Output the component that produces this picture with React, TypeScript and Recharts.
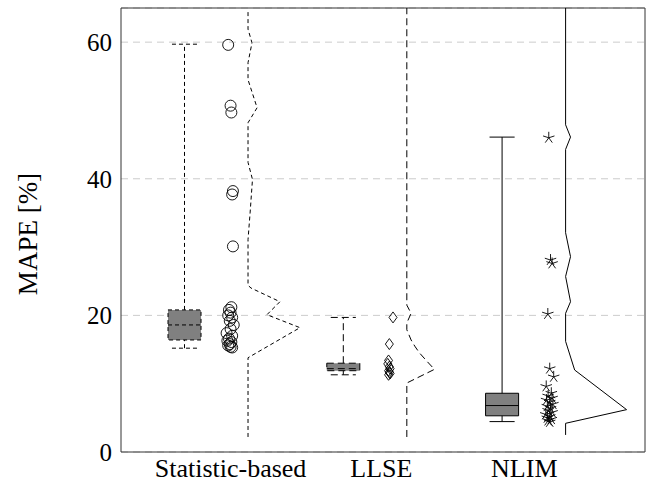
import {
  CartesianGrid,
  ComposedChart,
  ReferenceArea,
  ReferenceLine,
  Scatter,
  XAxis,
  YAxis,
} from "recharts";

// category draw positions and label positions on the numeric x axis
const categories = ["Statistic-based", "LLSE", "NLIM"];
const boxPositions = [1, 2, 3];
const labelPositions = [1.29, 2.24, 3.14];
const yTicks = [0, 20, 40, 60];

// box stats: [min, q1, median, q3, max]
const statisticBox = [15.2, 16.4, 18.6, 20.8, 59.7];
const llseBox = [11.3, 11.9, 12.2, 13.0, 19.7];
const nlimBox = [4.45, 5.3, 6.8, 8.6, 46.1];

// raw samples (value) and their horizontal jitter
const statisticValues = [
  59.6, 50.7, 49.7, 38.2, 37.7, 30.1, 21.2, 20.8, 20.4, 20.0, 19.7, 19.2, 18.6,
  18.0, 17.4, 17.0, 16.6, 16.3, 16.1, 15.8, 15.6, 15.4, 15.3,
];
const statisticJitter = [
  0.275, 0.29, 0.295, 0.305, 0.3, 0.305, 0.295, 0.28, 0.29, 0.275, 0.3, 0.285,
  0.31, 0.29, 0.265, 0.3, 0.28, 0.27, 0.295, 0.285, 0.275, 0.29, 0.3,
];
const llseValues = [19.7, 15.8, 13.4, 12.9, 12.5, 12.2, 11.9, 11.7, 11.5, 11.3];
const llseJitter = [0.313, 0.29, 0.285, 0.28, 0.29, 0.295, 0.285, 0.29, 0.295, 0.285];
const nlimValues = [
  46.0, 28.1, 27.6, 20.2, 12.2, 11.0, 9.6, 8.6, 8.2, 7.9, 7.6, 7.3, 7.0, 6.7,
  6.4, 6.1, 5.8, 5.5, 5.2, 5.0, 4.8, 4.6, 4.4,
];
const nlimJitter = [
  0.294, 0.305, 0.315, 0.288, 0.3, 0.325, 0.278, 0.31, 0.29, 0.315, 0.28, 0.3,
  0.32, 0.285, 0.305, 0.29, 0.315, 0.275, 0.3, 0.285, 0.31, 0.29, 0.3,
];

// density outlines: [value, width]
const statisticDensity = [
  [2.2, 0], [13.8, 0], [18.2, 0.327], [20.1, 0.119], [22.0, 0.201], [24.0, 0.019],
  [24.4, 0], [31.1, 0], [35.0, 0.013], [39.9, 0.028], [42.4, 0], [48.2, 0],
  [50.4, 0.057], [54.5, 0], [57.0, 0], [59.9, 0.025], [61.9, 0], [64.5, 0],
];
const llseDensity = [
  [2.2, 0], [10.1, 0], [12.1, 0.174], [13.3, 0.126], [14.5, 0.08], [15.5, 0.05],
  [16.4, 0.027], [17.9, 0], [18.9, 0], [20.3, 0.027], [21.5, 0], [65, 0],
];
const nlimDensity = [
  [2.5, 0], [4.2, 0], [6.2, 0.384], [12.0, 0.057], [16.2, 0], [20.3, 0],
  [22.0, 0.031], [25.7, 0], [28.6, 0.031], [32.1, 0], [44.3, 0], [46.1, 0.031],
  [47.9, 0], [65, 0],
];

const DENSITY_OFFSET = 0.4;
const BOX_HALF = 0.104;
const CAP_HALF = 0.079;
const FONT = "'Liberation Serif', 'Times New Roman', serif";

const points = (base: number, values: number[], jitter: number[]) =>
  values.map((y, i) => ({ x: base + jitter[i], y }));

const outline = (base: number, density: number[][]) =>
  density.map(([y, w]) => ({ x: base + DENSITY_OFFSET + w, y }));

const Circle = (p: any) => (
  <circle cx={p.cx} cy={p.cy} r={5.5} fill="none" stroke="#000" strokeWidth={0.9} />
);

const Diamond = (p: any) => (
  <path
    d={`M${p.cx},${p.cy - 5.5}L${p.cx + 4},${p.cy}L${p.cx},${p.cy + 5.5}L${p.cx - 4},${p.cy}Z`}
    fill="none"
    stroke="#000"
    strokeWidth={0.9}
  />
);

const Star = (p: any) => {
  const r = 6;
  const d = [0, 1, 2, 3, 4]
    .map((k) => {
      const a = (-90 + k * 72) * (Math.PI / 180);
      return `M${p.cx},${p.cy}L${p.cx + r * Math.cos(a)},${p.cy + r * Math.sin(a)}`;
    })
    .join("");
  return <path d={d} stroke="#000" strokeWidth={0.9} fill="none" />;
};

const Nothing = () => <g />;

function BoxPlot({ pos, stats, dash }: { pos: number; stats: number[]; dash?: string }) {
  const [min, q1, med, q3, max] = stats;
  const line = { stroke: "#000", strokeWidth: 1, strokeDasharray: dash };
  return (
    <>
      <ReferenceLine segment={[{ x: pos, y: q3 }, { x: pos, y: max }]} {...line} />
      <ReferenceLine segment={[{ x: pos, y: min }, { x: pos, y: q1 }]} {...line} />
      <ReferenceLine segment={[{ x: pos - CAP_HALF, y: max }, { x: pos + CAP_HALF, y: max }]} {...line} />
      <ReferenceLine segment={[{ x: pos - CAP_HALF, y: min }, { x: pos + CAP_HALF, y: min }]} {...line} />
      <ReferenceArea
        x1={pos - BOX_HALF}
        x2={pos + BOX_HALF}
        y1={q1}
        y2={q3}
        fill="#808080"
        fillOpacity={1}
        {...line}
      />
      <ReferenceLine segment={[{ x: pos - BOX_HALF, y: med }, { x: pos + BOX_HALF, y: med }]} {...line} />
    </>
  );
}

const YLabel = ({ viewBox }: any) => {
  const cx = viewBox.x + 28;
  const cy = viewBox.y + viewBox.height / 2 + 4;
  return (
    <text
      x={cx}
      y={cy}
      transform={`rotate(-90 ${cx} ${cy})`}
      textAnchor="middle"
      dominantBaseline="central"
      fontFamily={FONT}
      fontSize={27}
      fill="#000"
    >
      MAPE [%]
    </text>
  );
};

export default function App() {
  const dashStat = "4 3";
  const dashLlse = "7 4";
  return (
    <div style={{ position: "absolute", left: 0, top: 0, background: "#fff" }}>
      <ComposedChart width={654} height={491} margin={{ top: 8, right: 9, left: 0, bottom: 0 }}>
        <CartesianGrid vertical={false} stroke="#cccccc" strokeDasharray="7 5" />
        <XAxis
          type="number"
          dataKey="x"
          domain={[0.6, 3.9]}
          ticks={labelPositions}
          interval={0}
          allowDataOverflow
          height={39}
          tickLine={false}
          tickMargin={1}
          axisLine={{ stroke: "#333" }}
          tick={{ fontFamily: FONT, fontSize: 26, fill: "#000" }}
          tickFormatter={(v: number) => categories[labelPositions.indexOf(v)] ?? ""}
        />
        <YAxis
          type="number"
          dataKey="y"
          domain={[0, 65]}
          ticks={yTicks}
          allowDataOverflow
          width={121}
          tickLine={false}
          tickMargin={3}
          axisLine={{ stroke: "#333" }}
          tick={{ fontFamily: FONT, fontSize: 25, fill: "#000" }}
          label={<YLabel />}
        />
        <ReferenceLine y={65} stroke="#333" />
        <ReferenceLine x={3.9} stroke="#333" />

        <BoxPlot pos={boxPositions[0]} stats={statisticBox} dash={dashStat} />
        <BoxPlot pos={boxPositions[1]} stats={llseBox} dash={dashLlse} />
        <BoxPlot pos={boxPositions[2]} stats={nlimBox} />

        <Scatter
          data={outline(boxPositions[0], statisticDensity)}
          line={{ stroke: "#000", strokeWidth: 1, strokeDasharray: dashStat }}
          shape={Nothing}
          isAnimationActive={false}
        />
        <Scatter
          data={outline(boxPositions[1], llseDensity)}
          line={{ stroke: "#000", strokeWidth: 1, strokeDasharray: dashLlse }}
          shape={Nothing}
          isAnimationActive={false}
        />
        <Scatter
          data={outline(boxPositions[2], nlimDensity)}
          line={{ stroke: "#000", strokeWidth: 1 }}
          shape={Nothing}
          isAnimationActive={false}
        />

        <Scatter data={points(boxPositions[0], statisticValues, statisticJitter)} shape={Circle} isAnimationActive={false} />
        <Scatter data={points(boxPositions[1], llseValues, llseJitter)} shape={Diamond} isAnimationActive={false} />
        <Scatter data={points(boxPositions[2], nlimValues, nlimJitter)} shape={Star} isAnimationActive={false} />
      </ComposedChart>
    </div>
  );
}
